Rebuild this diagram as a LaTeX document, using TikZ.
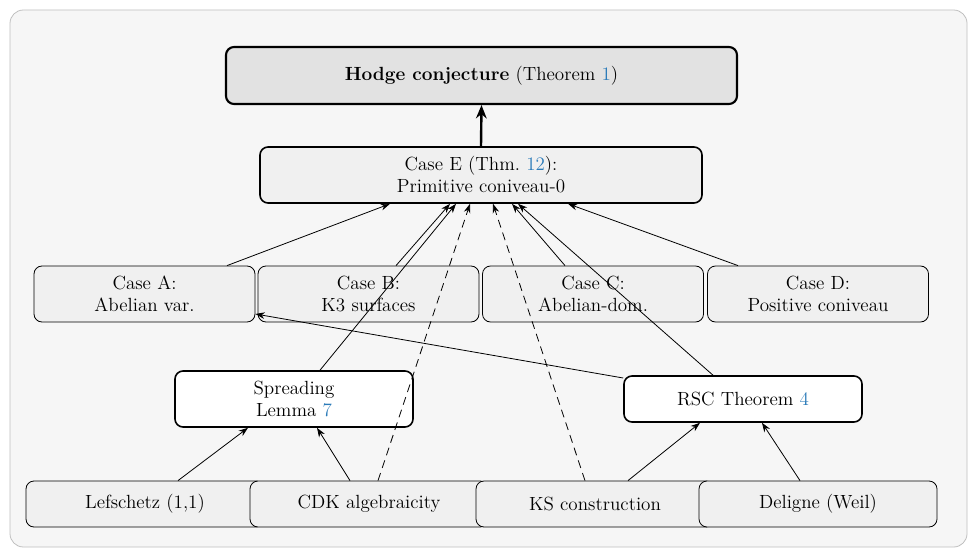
\documentclass[tikz,border=0pt]{standalone}
\usetikzlibrary{arrows.meta}
\definecolor{lnk}{HTML}{2B7BB9}
\definecolor{boxg}{HTML}{F0F0F0}
\definecolor{topg}{HTML}{E2E2E2}
\begin{document}
\begin{tikzpicture}[x=0.75pt,y=-0.75pt,font=\fontsize{14.3}{16.5}\selectfont,
  base/.style={draw,rounded corners=6pt,align=center,inner sep=0pt},
  casebox/.style={base,fill=boxg,line width=0.6pt,minimum width=221*0.75pt,minimum height=56*0.75pt},
  botbox/.style={base,fill=boxg,line width=0.6pt,minimum width=238*0.75pt,minimum height=46*0.75pt},
  lemmabox/.style={base,fill=white,line width=1.2pt,minimum width=238*0.75pt},
  arr/.style={-{Stealth[length=7pt,width=5pt]},line width=0.6pt},
  darr/.style={arr,dash pattern=on 6pt off 4pt}]
\path[use as bounding box] (0,0) rectangle (977,556);
\draw[rounded corners=10pt,fill=boxg!60,draw=black!25,line width=0.6pt] (10,10) rectangle (967,547);
\node[base,fill=topg,line width=1.6pt,minimum width=511*0.75pt,minimum height=57*0.75pt] (H) at (481.5,75.5) {\textbf{Hodge conjecture} (Theorem \textcolor{lnk}{1})};
\node[base,fill=boxg,line width=1.2pt,minimum width=442*0.75pt,minimum height=56*0.75pt] (E) at (481,175) {Case E (Thm.~\textcolor{lnk}{12}):\\Primitive coniveau-0};
\node[casebox] (A) at (144.5,294) {Case A:\\Abelian var.};
\node[casebox] (B) at (368.5,294) {Case B:\\K3 surfaces};
\node[casebox] (C) at (593,294) {Case C:\\Abelian-dom.};
\node[casebox] (D) at (818,294) {Case D:\\Positive coniveau};
\node[lemmabox,minimum height=56*0.75pt] (S) at (294,399) {Spreading\\Lemma \textcolor{lnk}{7}};
\node[lemmabox,minimum height=46*0.75pt] (R) at (743,399) {RSC Theorem \textcolor{lnk}{4}};
\node[botbox] (L) at (145,504) {Lefschetz (1,1)};
\node[botbox] (K) at (369,504) {CDK algebraicity};
\node[botbox] (KS) at (595,504) {KS construction};
\node[botbox] (W) at (818,504) {Deligne (Weil)};
\draw[-{Stealth[length=10pt,width=8pt]},line width=1.8pt] (E.north) -- (H.south);
\draw[arr] (A.north -| 227,0) -- (E.south -| 390,0);
\draw[arr] (B.north -| 396,0) -- (E.south -| 450,0);
\draw[arr] (S.north -| 320,0) -- (E.south -| 456,0);
\draw[darr] (K.north -| 378,0) -- (E.south -| 470,0);
\draw[darr] (KS.north -| 585,0) -- (E.south -| 493,0);
\draw[arr] (C.north -| 565,0) -- (E.south -| 512,0);
\draw[arr] (R.north -| 713,0) -- (E.south -| 518,0);
\draw[arr] (D.north -| 738,0) -- (E.south -| 568,0);
\draw[arr] (R.west |- 0,378) -- (A.east |- 0,314);
\draw[arr] (L.north -| 178,0) -- (S.south -| 248,0);
\draw[arr] (K.north -| 350,0) -- (S.south -| 317,0);
\draw[arr] (KS.north -| 628,0) -- (R.south -| 700,0);
\draw[arr] (W.north -| 800,0) -- (R.south -| 762,0);
\end{tikzpicture}
\end{document}
